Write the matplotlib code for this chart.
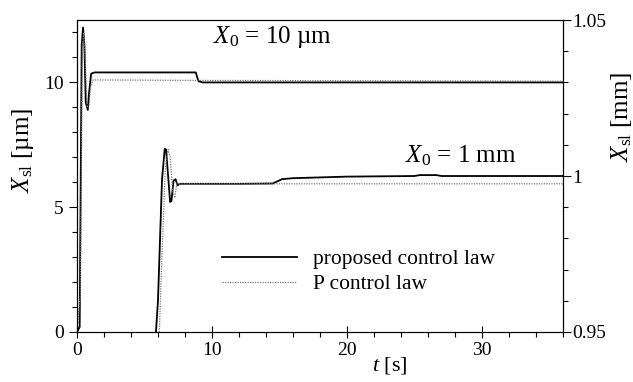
import matplotlib
matplotlib.use("Agg")
import matplotlib.pyplot as plt

plt.rcParams["font.family"] = ["Liberation Serif", "DejaVu Serif"]
plt.rcParams["mathtext.fontset"] = "custom"
plt.rcParams["mathtext.rm"] = "Liberation Serif"
plt.rcParams["mathtext.it"] = "Liberation Serif:italic"

# X0 = 10 um (left axis, um)
t_um_prop = [0, 0.2, 0.35, 0.45, 0.55, 0.65, 0.8, 0.9, 1.05, 1.3, 8.8, 9.0, 9.3, 36]
x_um_prop = [0, 0.2, 11.5, 12.2, 11.5, 9.2, 8.9, 9.6, 10.35, 10.4, 10.4, 10.05, 10.0, 10.0]
t_um_p = [0, 0.25, 0.4, 0.5, 0.6, 0.75, 0.9, 1.0, 1.2, 9.0, 36]
x_um_p = [0, 1.5, 11.5, 12.0, 11.0, 9.0, 9.1, 9.8, 10.1, 10.08, 10.05]

# X0 = 1 mm (right axis, mm)
t_mm_prop = [5.85, 6.0, 6.3, 6.5, 6.6, 6.75, 6.9, 7.0, 7.15, 7.3, 7.45, 7.6, 8.0,
             12, 14.5, 15.2, 16, 20, 25, 25.4, 26.6, 27, 36]
x_mm_prop = [0.95, 0.96, 0.999, 1.0087, 1.0085, 1.0, 0.9917, 0.992, 0.9985, 0.999,
             0.997, 0.9975, 0.9975, 0.9975, 0.9976, 0.999, 0.9993, 0.9998, 1.0,
             1.0003, 1.0003, 1.0, 1.0]
t_mm_p = [6.1, 6.3, 6.55, 6.75, 6.9, 7.1, 7.25, 7.4, 7.6, 36]
x_mm_p = [0.95, 0.975, 1.003, 1.0085, 1.006, 0.995, 0.993, 0.998, 0.9975, 0.9975]

fig = plt.figure(figsize=(6.33, 3.82), dpi=100)
ax = fig.add_axes([0.1216, 0.1309, 0.7678, 0.8167])
ax2 = ax.twinx()

ax.plot(t_um_prop, x_um_prop, color="black", lw=1.3, label="proposed control law")
ax.plot(t_um_p, x_um_p, color="#777777", lw=0.9, ls=(0, (1, 1)), label="P control law")
ax2.plot(t_mm_prop, x_mm_prop, color="black", lw=1.3)
ax2.plot(t_mm_p, x_mm_p, color="#777777", lw=0.9, ls=(0, (1, 1)))

ax.set_xlim(0, 36)
ax.set_ylim(0, 12.5)
ax2.set_ylim(0.95, 1.05)

ax.set_xticks([0, 10, 20, 30])
ax.set_xticks(range(0, 37, 2), minor=True)
ax.set_yticks([0, 5, 10])
ax.set_yticks(range(0, 13), minor=True)
ax2.set_yticks([0.95, 1, 1.05])
ax2.set_yticklabels(["0.95", "1", "1.05"])
ax2.set_yticks([0.95 + 0.01 * i for i in range(11)], minor=True)

for a in (ax, ax2):
    a.tick_params(which="major", length=6, width=0.8, labelsize=14, direction="out")
    a.tick_params(which="minor", length=3.5, width=0.8, direction="out")
    for s in a.spines.values():
        s.set_linewidth(0.8)
ax.tick_params(axis="x", which="major", direction="inout", length=8)
ax2.tick_params(axis="y", which="major", pad=1)

ax.set_xlabel(r"$t$ [s]", fontsize=16)
ax.xaxis.set_label_coords(0.644, -0.075)
ax.set_ylabel(r"$X_{\rm sl}$ [µm]", fontsize=18)
ax.yaxis.set_label_coords(-0.085, 0.583)
ax2.set_ylabel(r"$X_{\rm sl}$ [mm]", fontsize=18)
ax2.yaxis.set_label_coords(1.095, 0.69)

ax.text(10.1, 11.8, r"$X_{\rm 0}$ = 10 µm", fontsize=18, ha="left", va="center")
ax.text(24.3, 7.08, r"$X_{\rm 0}$ = 1 mm", fontsize=18, ha="left", va="center")

ax.legend(loc="upper left", bbox_to_anchor=(0.298, 0.265), frameon=False, fontsize=15.5,
          handlelength=3.5, handletextpad=0.75, labelspacing=0.22, borderpad=0,
          borderaxespad=0)

fig.savefig("out.png", dpi=100)
